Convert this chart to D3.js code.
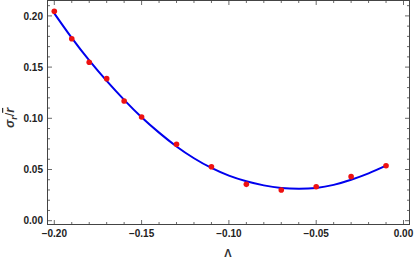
<!DOCTYPE html>
<html>
<head>
<meta charset="utf-8">
<script src="https://cdn.jsdelivr.net/npm/d3@7"></script>
<style>
  body { margin: 0; background: #fff; }
  svg { display: block; font-family: "Liberation Sans", Arial, sans-serif; }
</style>
</head>
<body>
<svg width="415" height="262"></svg>
<script>
// measured points (red dots)
const lambdaVals = [-0.20, -0.19, -0.18, -0.17, -0.16, -0.15, -0.13, -0.11, -0.09, -0.07, -0.05, -0.03, -0.01]
const sigmaVals = [0.2045, 0.1777, 0.1547, 0.1387, 0.1169, 0.1013, 0.0746, 0.0527, 0.0355, 0.0300, 0.0332, 0.0430, 0.0537]

// fitted curve (blue line)
const fitLambda = [-0.20, -0.19, -0.18, -0.17, -0.16, -0.15, -0.14, -0.13, -0.12, -0.11, -0.10, -0.09, -0.08, -0.07, -0.06, -0.05, -0.04, -0.03, -0.02, -0.01]
const fitSigma = [0.2025, 0.1785, 0.1565, 0.1365, 0.1180, 0.1010, 0.0860, 0.0725, 0.0610, 0.0515, 0.0440, 0.0385, 0.0345, 0.0320, 0.0312, 0.0320, 0.0350, 0.0400, 0.0462, 0.0537]

const xTicks = [-0.20, -0.15, -0.10, -0.05, 0.00]
const yTicks = [0.00, 0.05, 0.10, 0.15, 0.20]

const frame = {left: 47.5, right: 409.5, top: 0.5, bottom: 224.5}

let svg = d3.select("svg")

const x = d3.scaleLinear().domain([-0.2, 0]).range([54.3, 403.5])
const y = d3.scaleLinear().domain([0, 0.2]).range([220.7, 15.9])

const minorX = d3.range(-20, 1).map(i => i / 100)
const minorY = d3.range(0, 22).map(i => i / 100)
const frameColor = "#444"

// frame
svg.append("rect")
    .attr("x", frame.left).attr("y", frame.top)
    .attr("width", frame.right - frame.left).attr("height", frame.bottom - frame.top)
    .attr("fill", "none").attr("stroke", frameColor).attr("stroke-width", 1)

// inward ticks on all four sides
let ticks = svg.append("g").attr("stroke", frameColor).attr("stroke-width", 0.8)
minorX.forEach(v => {
    let len = xTicks.some(t => Math.abs(t - v) < 1e-9) ? 4.5 : 2.5
    ticks.append("line").attr("x1", x(v)).attr("x2", x(v)).attr("y1", frame.bottom).attr("y2", frame.bottom - len)
    ticks.append("line").attr("x1", x(v)).attr("x2", x(v)).attr("y1", frame.top).attr("y2", frame.top + len)
})
minorY.forEach(v => {
    if (y(v) < frame.top) return
    let len = yTicks.some(t => Math.abs(t - v) < 1e-9) ? 4.5 : 2.5
    ticks.append("line").attr("y1", y(v)).attr("y2", y(v)).attr("x1", frame.left).attr("x2", frame.left + len)
    ticks.append("line").attr("y1", y(v)).attr("y2", y(v)).attr("x1", frame.right).attr("x2", frame.right - len)
})

// tick labels
const fmt = v => (v < 0 ? "\u2212" : "") + Math.abs(v).toFixed(2)
xTicks.forEach(v => {
    svg.append("text").attr("x", x(v)).attr("y", 237)
        .attr("text-anchor", "middle").attr("font-size", 10).attr("font-weight", "bold")
        .attr("fill", "#222").text(fmt(v))
})
yTicks.forEach(v => {
    svg.append("text").attr("x", 43).attr("y", y(v) + 3.6)
        .attr("text-anchor", "end").attr("font-size", 10).attr("font-weight", "bold")
        .attr("fill", "#222").text(fmt(v))
})

// axis titles
svg.append("text").attr("x", 228).attr("y", 257)
    .attr("text-anchor", "middle").attr("font-size", 11).attr("font-weight", "bold")
    .attr("fill", "#333").text("Λ")

let yt = svg.append("text").attr("transform", "translate(14,118) rotate(-90)")
    .attr("text-anchor", "middle").attr("font-size", 12.5).attr("font-weight", "bold").attr("fill", "#333")
yt.append("tspan").attr("font-style", "italic").text("σ")
yt.append("tspan").attr("font-style", "italic").attr("font-size", 9).attr("dy", 3).text("r")
yt.append("tspan").attr("dy", -3).attr("font-weight", "normal").text("/")
yt.append("tspan").attr("font-style", "italic").attr("text-decoration", "overline").text("r")

// fitted curve
const fitData = fitLambda.map((l, i) => [l, fitSigma[i]])
svg.append("path")
    .datum(fitData)
    .attr("d", d3.line().x(d => x(d[0])).y(d => y(d[1])).curve(d3.curveNatural))
    .attr("fill", "none").attr("stroke", "#0000ee").attr("stroke-width", 2)

// data points
svg.append("g").selectAll("circle")
    .data(lambdaVals.map((l, i) => [l, sigmaVals[i]]))
    .join("circle")
    .attr("cx", d => x(d[0])).attr("cy", d => y(d[1])).attr("r", 2.8)
    .attr("fill", "#ee1111")
</script>
</body>
</html>
